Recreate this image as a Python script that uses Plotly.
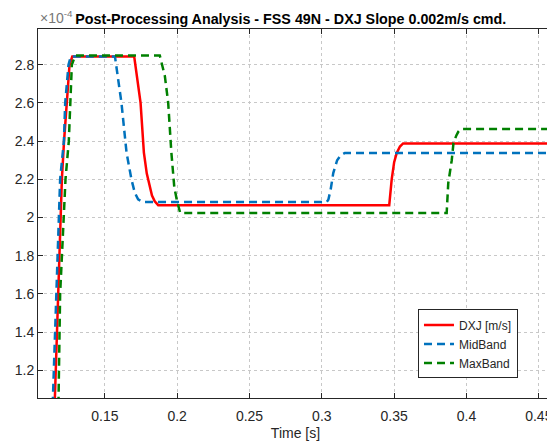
import plotly.graph_objects as go

# values, y in units of 1e-4 m/s
TIME_DXJ = [0.1110, 0.1159, 0.1166, 0.1175, 0.1184, 0.1194, 0.1203, 0.1218, 0.1235, 0.1256, 0.1275,
            0.1703, 0.1747, 0.1770, 0.1790, 0.1810, 0.1826, 0.1845, 0.1869,
            0.3466, 0.3483, 0.3500, 0.3518, 0.3540, 0.3562, 0.4700]
DXJ = [0.0, 1.2, 1.4, 1.6, 1.8, 2.0, 2.2, 2.4, 2.6, 2.8, 2.843,
       2.843, 2.6, 2.34, 2.23, 2.16, 2.115, 2.085, 2.065,
       2.065, 2.2, 2.29, 2.338, 2.372, 2.388, 2.388]

TIME_MID = [0.1095, 0.1141, 0.1148, 0.1161, 0.1182, 0.1191, 0.1217, 0.1226, 0.1249, 0.1265,
            0.1570, 0.1595, 0.1615, 0.1650, 0.1684, 0.1707, 0.1730, 0.1765,
            0.3033, 0.3045, 0.3061, 0.3079, 0.3106, 0.3130, 0.3159, 0.4700]
MID = [0.0, 1.055, 1.2, 1.6, 2.0, 2.2, 2.4, 2.6, 2.8, 2.843,
       2.843, 2.72, 2.6, 2.34, 2.2, 2.13, 2.095, 2.081,
       2.081, 2.093, 2.146, 2.233, 2.30, 2.325, 2.338, 2.338]

TIME_MAX = [0.1120, 0.1180, 0.1191, 0.1214, 0.1228, 0.1251, 0.1263, 0.1272, 0.1295,
            0.1880, 0.1915, 0.1938, 0.1960, 0.1980, 0.1998, 0.2021,
            0.3863, 0.3874, 0.3898, 0.3910, 0.3930, 0.3944, 0.3960, 0.4700]
MAX = [0.0, 1.055, 1.6, 2.0, 2.2, 2.4, 2.6, 2.8, 2.848,
       2.848, 2.74, 2.6, 2.34, 2.16, 2.09, 2.024,
       2.024, 2.18, 2.30, 2.39, 2.43, 2.45, 2.463, 2.463]

X_TICKS = [0.15, 0.2, 0.25, 0.3, 0.35, 0.4, 0.45]
Y_TICKS = [1.2, 1.4, 1.6, 1.8, 2.0, 2.2, 2.4, 2.6, 2.8]

FONT = "Liberation Sans, Arial, sans-serif"
AX = "#262626"

fig = go.Figure()
fig.add_trace(go.Scatter(x=TIME_DXJ, y=DXJ, mode="lines", name="DXJ [m/s]",
                         line=dict(color="#ff0000", width=2.5)))
fig.add_trace(go.Scatter(x=TIME_MID, y=MID, mode="lines", name="MidBand",
                         line=dict(color="#0072bd", width=2.5, dash="8px,5px")))
fig.add_trace(go.Scatter(x=TIME_MAX, y=MAX, mode="lines", name="MaxBand",
                         line=dict(color="#008000", width=2.5, dash="8px,5px")))

axis_common = dict(
    showline=True, linecolor=AX, linewidth=1, mirror="ticks",
    ticks="inside", ticklen=5, tickcolor=AX, automargin=False,
    showgrid=True, gridcolor="#c8c8c8", griddash="dot", gridwidth=1,
    zeroline=False, tickfont=dict(size=14, color=AX, family=FONT),
)
fig.update_xaxes(range=[0.1038, 0.4598], tickvals=X_TICKS,
                 ticktext=[f"{v:g}" for v in X_TICKS], ticklabelstandoff=5,
                 title=dict(text="Time [s]", font=dict(size=14, color=AX), standoff=5),
                 **axis_common)
fig.update_yaxes(range=[1.0555, 2.987], tickvals=Y_TICKS,
                 ticktext=[f"{v:g}" for v in Y_TICKS], **axis_common)

# the page body has an 8px margin, so the figure is 8px smaller than the window
fig.update_layout(
    width=547, height=440,
    margin=dict(l=30, r=2, t=21, b=50, autoexpand=False),
    paper_bgcolor="white", plot_bgcolor="white",
    font=dict(family=FONT, size=14, color=AX),
    title=dict(text="<b>Post-Processing Analysis - FSS 49N - DXJ Slope 0.002m/s cmd.</b>",
               x=0.517, xanchor="center", y=0.974, yanchor="middle",
               font=dict(size=14.3, color="black")),
    legend=dict(x=0.932, xanchor="right", y=0.053, yanchor="bottom",
                bgcolor="white", bordercolor=AX, borderwidth=1,
                font=dict(size=12, color=AX), tracegroupgap=0),
    showlegend=True,
)
fig.add_annotation(text="×10<sup>-4</sup>", xref="paper", yref="paper",
                   x=0, y=1, xanchor="left", yanchor="bottom", yshift=1,
                   showarrow=False, font=dict(size=14, color="#777777"))

fig.write_html("out.html")
